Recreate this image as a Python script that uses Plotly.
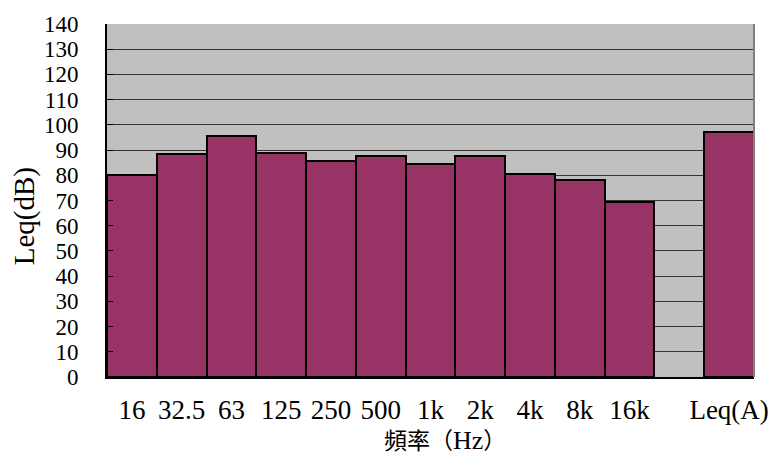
import plotly.graph_objects as go

# Octave-band sound levels plus the overall A-weighted level
bands = ["16", "32.5", "63", "125", "250", "500", "1k", "2k", "4k", "8k", "16k", " ", "Leq(A)"]
leq_db = [80, 88.5, 95.5, 89, 85.5, 87.5, 84.5, 87.5, 80.5, 78, 69.5, None, 97]
y_ticks = list(range(0, 141, 10))

serif = "Liberation Serif, Times New Roman, serif"

fig = go.Figure(
    go.Bar(
        x=bands,
        y=leq_db,
        marker=dict(color="#993366", line=dict(color="#000000", width=2)),
        width=1.0,
    )
)

fig.update_layout(
    width=781,
    height=457,
    margin=dict(l=107, r=22, t=20, b=80),
    paper_bgcolor="#ffffff",
    plot_bgcolor="#c0c0c0",
    bargap=0,
    showlegend=False,
    font=dict(family=serif, color="#000000"),
    xaxis=dict(
        type="category",
        categoryorder="array",
        categoryarray=bands,
        range=[-0.5, len(bands) - 0.5],
        showgrid=False,
        showline=True,
        linecolor="#000000",
        linewidth=2,
        ticks="",
        tickfont=dict(family=serif, size=27),
        ticklabelstandoff=8,
    ),
    yaxis=dict(
        range=[0, 140],
        tickvals=y_ticks,
        ticktext=[str(v) for v in y_ticks],
        showgrid=True,
        gridcolor="#333333",
        gridwidth=1,
        showline=True,
        linecolor="#000000",
        linewidth=2,
        ticks="inside",
        ticklen=6,
        tickcolor="#000000",
        tickfont=dict(family=serif, size=23),
        ticklabelstandoff=22,
        zeroline=False,
    ),
    annotations=[
        dict(
            text="Leq(dB)",
            xref="paper", yref="paper",
            x=-0.127, y=0.455,
            xanchor="center", yanchor="middle",
            textangle=-90,
            showarrow=False,
            font=dict(family=serif, size=29),
        ),
        dict(
            text="頻率（<span style='font-size:26px'>Hz</span>）",
            xref="paper", yref="paper",
            x=0.523, y=-0.18,
            xanchor="center", yanchor="middle",
            showarrow=False,
            font=dict(family="Liberation Serif, Noto Sans CJK TC", size=23),
        ),
    ],
    shapes=[
        dict(
            type="line", xref="paper", yref="paper",
            x0=1, x1=1, y0=0, y1=1,
            line=dict(color="#808080", width=2),
        )
    ],
)

fig.write_html("out.html")
